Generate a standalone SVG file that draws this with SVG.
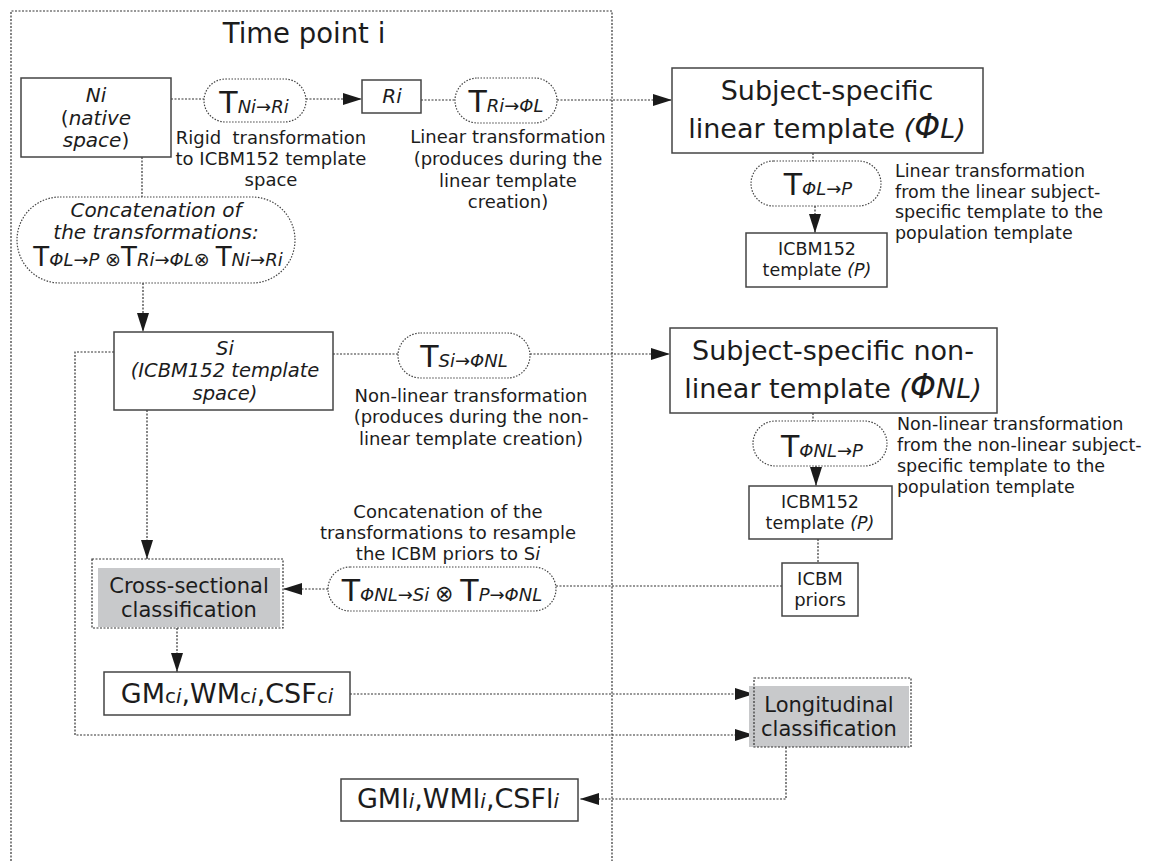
<svg xmlns="http://www.w3.org/2000/svg" width="1153" height="861" viewBox="0 0 1153 861">
<defs>
<style>
text{font-family:"DejaVu Sans","Liberation Sans",sans-serif;fill:#1c1c1c}
.box{fill:#fff;stroke:#444;stroke-width:1.5}
.pill{fill:#fff;stroke:#444;stroke-width:1.2;stroke-dasharray:1.5 1.5}
.con{fill:none;stroke:#333;stroke-width:1.2;stroke-dasharray:2 1.5}
.dbox{fill:none;stroke:#333;stroke-width:1.2;stroke-dasharray:2 1.5}
.gray{fill:#c8c9cb}
.mid{text-anchor:middle}
.l18{font-size:18px}
.l17{font-size:17.5px}
.it{font-style:italic}
.T{font-size:30px;font-style:normal}
.Ts{font-size:26px;font-style:normal}
.sub{font-size:18px;font-style:italic}
.ox{font-size:22px;font-style:normal}
.oxs{font-size:19px;font-style:normal}
</style>
<marker id="ah" markerWidth="20" markerHeight="14" refX="19" refY="7" orient="auto" markerUnits="userSpaceOnUse">
<path d="M0,1 L19,7 L0,13 z" fill="#1a1a1a"/>
</marker>
</defs>
<rect width="1153" height="861" fill="#fff"/>

<g id="timepoint">
<path class="dbox" d="M11,861 V11 H612 V861"/>
<text x="304" y="43" class="mid" font-size="27.5">Time point i</text>
</g>

<g id="connectors">
<path class="con" d="M171,99 H204"/>
<path class="con" d="M306,99 H362" marker-end="url(#ah)"/>
<path class="con" d="M421,100 H455"/>
<path class="con" d="M557,100 H672" marker-end="url(#ah)"/>
<path class="con" d="M813,153 V161"/>
<path class="con" d="M815,206 V233" marker-end="url(#ah)"/>
<path class="con" d="M142,157 V197"/>
<path class="con" d="M143,283 V332" marker-end="url(#ah)"/>
<path class="con" d="M333,354 H398"/>
<path class="con" d="M530,354 H670" marker-end="url(#ah)"/>
<path class="con" d="M813,413 V421"/>
<path class="con" d="M816,466 V486" marker-end="url(#ah)"/>
<path class="con" d="M818,539 V563"/>
<path class="con" d="M782,586 H556"/>
<path class="con" d="M328,589 H283" marker-end="url(#ah)"/>
<path class="con" d="M147,410 V559" marker-end="url(#ah)"/>
<path class="con" d="M177,628 V672" marker-end="url(#ah)"/>
<path class="con" d="M350,694 H754" marker-end="url(#ah)"/>
<path class="con" d="M114,352 H75 V735 H754" marker-end="url(#ah)"/>
<path class="con" d="M786,747 V799 H580" marker-end="url(#ah)"/>
</g>

<g id="Ni">
<rect class="box" x="21" y="78" width="150" height="79"/>
<text x="96" y="102" class="mid it" font-size="20">Ni</text>
<text x="96" y="125" class="mid" font-size="20">(<tspan class="it">native</tspan></text>
<text x="96" y="147" class="mid" font-size="20"><tspan class="it">space</tspan>)</text>
</g>

<g id="TNiRi">
<rect class="pill" x="204" y="79" width="102" height="43" rx="21.5"/>
<text x="254" y="113" class="mid"><tspan class="T">T</tspan><tspan class="sub">Ni→Ri</tspan></text>
<text x="271" y="144" class="mid l18">Rigid&#160; transformation</text>
<text x="271" y="165" class="mid l18">to ICBM152 template</text>
<text x="271" y="186" class="mid l18">space</text>
</g>

<g id="Ri">
<rect class="box" x="362" y="80" width="59" height="33"/>
<text x="392" y="103" class="mid it" font-size="20">Ri</text>
</g>

<g id="TRiPhiL">
<rect class="pill" x="455" y="78" width="102" height="45" rx="22.5"/>
<text x="506" y="112" class="mid"><tspan class="T">T</tspan><tspan class="sub">Ri→ΦL</tspan></text>
<text x="508" y="143" class="mid l18">Linear transformation</text>
<text x="508" y="165" class="mid l18">(produces during the</text>
<text x="508" y="187" class="mid l18">linear template</text>
<text x="508" y="208" class="mid l18">creation)</text>
</g>

<g id="SubjLinear">
<rect class="box" x="672" y="68" width="311" height="85"/>
<text x="827" y="100" class="mid" font-size="27">Subject-specific</text>
<text x="827" y="138" class="mid" font-size="27">linear template <tspan class="it">(<tspan font-size="33">Φ</tspan>L)</tspan></text>
</g>

<g id="TPhiLP">
<rect class="pill" x="751" y="161" width="130" height="45" rx="22.5"/>
<text x="818" y="195" class="mid"><tspan class="T">T</tspan><tspan class="sub">ΦL→P</tspan></text>
<text x="895" y="177" class="l17">Linear transformation</text>
<text x="895" y="197.5" class="l17">from the linear subject-</text>
<text x="895" y="218" class="l17">specific template to the</text>
<text x="895" y="238.5" class="l17">population template</text>
</g>

<g id="ICBM152a">
<rect class="box" x="746" y="233" width="141" height="54"/>
<text x="817" y="255" class="mid l17">ICBM152</text>
<text x="817" y="276" class="mid l17">template <tspan class="it">(P)</tspan></text>
</g>

<g id="Concat1">
<rect class="pill" x="17" y="197" width="278" height="86" rx="43"/>
<text x="156" y="217" class="mid it" font-size="20">Concatenation of</text>
<text x="156" y="239" class="mid it" font-size="20">the transformations:</text>
<text x="158" y="266" class="mid"><tspan class="Ts">T</tspan><tspan class="sub">ΦL→P </tspan><tspan class="oxs">⊗</tspan><tspan class="Ts">T</tspan><tspan class="sub">Ri→ΦL</tspan><tspan class="oxs">⊗ </tspan><tspan class="Ts">T</tspan><tspan class="sub">Ni→Ri</tspan></text>
</g>

<g id="Si">
<rect class="box" x="114" y="332" width="219" height="78"/>
<text x="225" y="355" class="mid it" font-size="19.5">Si</text>
<text x="225" y="377" class="mid it" font-size="19.5">(ICBM152 template</text>
<text x="225" y="400" class="mid it" font-size="19.5">space)</text>
</g>

<g id="TSiPhiNL">
<rect class="pill" x="398" y="333" width="132" height="45" rx="22.5"/>
<text x="464" y="367" class="mid"><tspan class="T">T</tspan><tspan class="sub">Si→ΦNL</tspan></text>
<text x="471" y="402" class="mid l18">Non-linear transformation</text>
<text x="471" y="423" class="mid l18">(produces during the non-</text>
<text x="471" y="445" class="mid l18">linear template creation)</text>
</g>

<g id="SubjNonLinear">
<rect class="box" x="670" y="328" width="327" height="85"/>
<text x="833" y="360" class="mid" font-size="27">Subject-specific non-</text>
<text x="833" y="398" class="mid" font-size="27">linear template <tspan class="it">(<tspan font-size="33">Φ</tspan>NL)</tspan></text>
</g>

<g id="TPhiNLP">
<rect class="pill" x="753" y="421" width="134" height="45" rx="22.5"/>
<text x="822" y="457" class="mid"><tspan class="T">T</tspan><tspan class="sub">ΦNL→P</tspan></text>
<text x="897" y="430" class="l17">Non-linear transformation</text>
<text x="897" y="451" class="l17">from the non-linear subject-</text>
<text x="897" y="472" class="l17">specific template to the</text>
<text x="897" y="493" class="l17">population template</text>
</g>

<g id="ICBM152b">
<rect class="box" x="749" y="486" width="143" height="53"/>
<text x="820" y="508" class="mid l17">ICBM152</text>
<text x="820" y="529" class="mid l17">template <tspan class="it">(P)</tspan></text>
</g>

<g id="Priors">
<rect class="box" x="782" y="563" width="76" height="53"/>
<text x="820" y="585" class="mid l18">ICBM</text>
<text x="820" y="606" class="mid l18">priors</text>
</g>

<g id="Concat2">
<rect class="pill" x="328" y="567" width="228" height="44" rx="22"/>
<text x="442" y="601" class="mid"><tspan class="T">T</tspan><tspan class="sub">ΦNL→Si </tspan><tspan class="ox">⊗ </tspan><tspan class="T">T</tspan><tspan class="sub">P→ΦNL</tspan></text>
<text x="448" y="518" class="mid l18">Concatenation of the</text>
<text x="448" y="539" class="mid l18">transformations to resample</text>
<text x="448" y="560" class="mid l18">the ICBM priors to S<tspan class="it">i</tspan></text>
</g>

<g id="CrossSectional">
<rect class="gray" x="98" y="568" width="182" height="59"/>
<rect class="dbox" x="92" y="559" width="191" height="69"/>
<text x="189" y="593" class="mid" font-size="21">Cross-sectional</text>
<text x="189" y="617" class="mid" font-size="21">classification</text>
</g>

<g id="GMc">
<rect class="box" x="104" y="672" width="246" height="43"/>
<text x="227" y="703" class="mid" font-size="27">GM<tspan font-size="20">c</tspan><tspan font-size="20" class="it">i</tspan>,WM<tspan font-size="20">c</tspan><tspan font-size="20" class="it">i</tspan>,CSF<tspan font-size="20">c</tspan><tspan font-size="20" class="it">i</tspan></text>
</g>

<g id="Longitudinal">
<rect class="gray" x="749" y="686" width="160" height="61"/>
<rect class="dbox" x="754" y="678" width="157" height="69"/>
<text x="829" y="712" class="mid" font-size="21">Longitudinal</text>
<text x="829" y="736" class="mid" font-size="21">classification</text>
</g>

<g id="GMl">
<rect class="box" x="341" y="779" width="237" height="42"/>
<text x="458" y="808" class="mid" font-size="27">GMl<tspan font-size="20" class="it">i</tspan>,WMl<tspan font-size="20" class="it">i</tspan>,CSFl<tspan font-size="20" class="it">i</tspan></text>
</g>
</svg>
